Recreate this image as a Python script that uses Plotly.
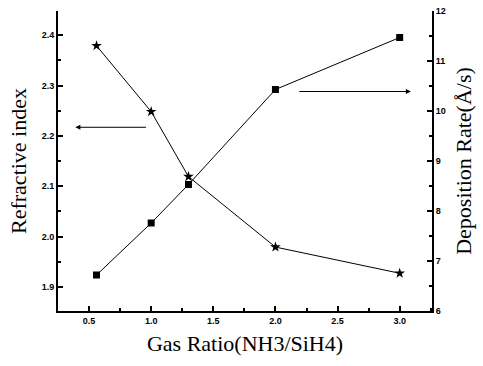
import plotly.graph_objects as go

gas_ratio = [0.56, 1.0, 1.3, 2.0, 3.0]
refractive_index = [2.379, 2.248, 2.119, 1.979, 1.927]
deposition_rate = [6.72, 7.76, 8.53, 10.43, 11.47]

x_ticks = [0.5, 1.0, 1.5, 2.0, 2.5, 3.0]
y_ticks = [1.9, 2.0, 2.1, 2.2, 2.3, 2.4]
y2_ticks = [6, 7, 8, 9, 10, 11, 12]

fig = go.Figure()
fig.add_trace(go.Scatter(x=gas_ratio, y=refractive_index, mode="lines+markers",
                         line=dict(color="black", width=1),
                         marker=dict(symbol="star", size=8, color="black"),
                         yaxis="y", showlegend=False))
fig.add_trace(go.Scatter(x=gas_ratio, y=deposition_rate, mode="lines+markers",
                         line=dict(color="black", width=1),
                         marker=dict(symbol="square", size=7, color="black"),
                         yaxis="y2", showlegend=False))

tickfont = dict(family="Liberation Sans", size=9, color="black", weight="bold")
titlefont = dict(family="Liberation Serif", size=22, color="black")

fig.update_layout(
    width=483, height=366,
    margin=dict(l=58, r=51, t=11, b=55),
    paper_bgcolor="white", plot_bgcolor="white",
    xaxis=dict(range=[0.25, 3.26], tickvals=x_ticks, ticktext=[f"{v:.1f}" for v in x_ticks],
               ticks="inside", ticklen=5, tickwidth=1.5, tickcolor="black",
               minor=dict(ticks="inside", ticklen=3, dtick=0.25, tickcolor="black"),
               showline=True, linecolor="black", linewidth=2,
               showgrid=False, zeroline=False, tickfont=tickfont, automargin=False,
               title=dict(text="Gas Ratio(NH3/SiH4)", font=titlefont, standoff=11)),
    xaxis2=dict(range=[0.25, 3.26], tickvals=x_ticks, overlaying="x", side="top",
                anchor="y", showticklabels=False,
                ticks="inside", ticklen=5, tickwidth=1.5, tickcolor="black",
                minor=dict(ticks="inside", ticklen=3, dtick=0.25, tickcolor="black"),
                showline=True, linecolor="black", linewidth=2,
                showgrid=False, zeroline=False, automargin=False),
    yaxis=dict(range=[1.852, 2.448], tickvals=y_ticks, ticktext=[f"{v:.1f}" for v in y_ticks],
               ticks="inside", ticklen=5, tickwidth=1.5, tickcolor="black",
               minor=dict(ticks="inside", ticklen=3, dtick=0.05, tickcolor="black"),
               showline=True, linecolor="black", linewidth=2,
               showgrid=False, zeroline=False, tickfont=tickfont, automargin=False,
               title=dict(text="Refractive index", font=titlefont, standoff=9)),
    yaxis2=dict(range=[6, 12], tickvals=y2_ticks, overlaying="y", side="right",
                ticks="inside", ticklen=5, tickwidth=1.5, tickcolor="black",
                minor=dict(ticks="inside", ticklen=3, dtick=0.5, tickcolor="black"),
                showline=True, linecolor="black", linewidth=2,
                showgrid=False, zeroline=False, tickfont=tickfont, automargin=False,
                title=dict(text="Deposition Rate(Å/s)", font=titlefont, standoff=11)),
)

fig.add_annotation(x=0.39, y=2.217, ax=0.97, ay=2.217, xref="x", yref="y",
                   axref="x", ayref="y", text="", showarrow=True,
                   arrowhead=2, arrowsize=1, arrowwidth=1, arrowcolor="black")
fig.add_annotation(x=3.09, y=10.39, ax=2.18, ay=10.39, xref="x", yref="y2",
                   axref="x", ayref="y2", text="", showarrow=True,
                   arrowhead=2, arrowsize=1, arrowwidth=1, arrowcolor="black")

fig.write_html("out.html", config={"displayModeBar": False},
               post_script="document.body.style.margin='0';")
